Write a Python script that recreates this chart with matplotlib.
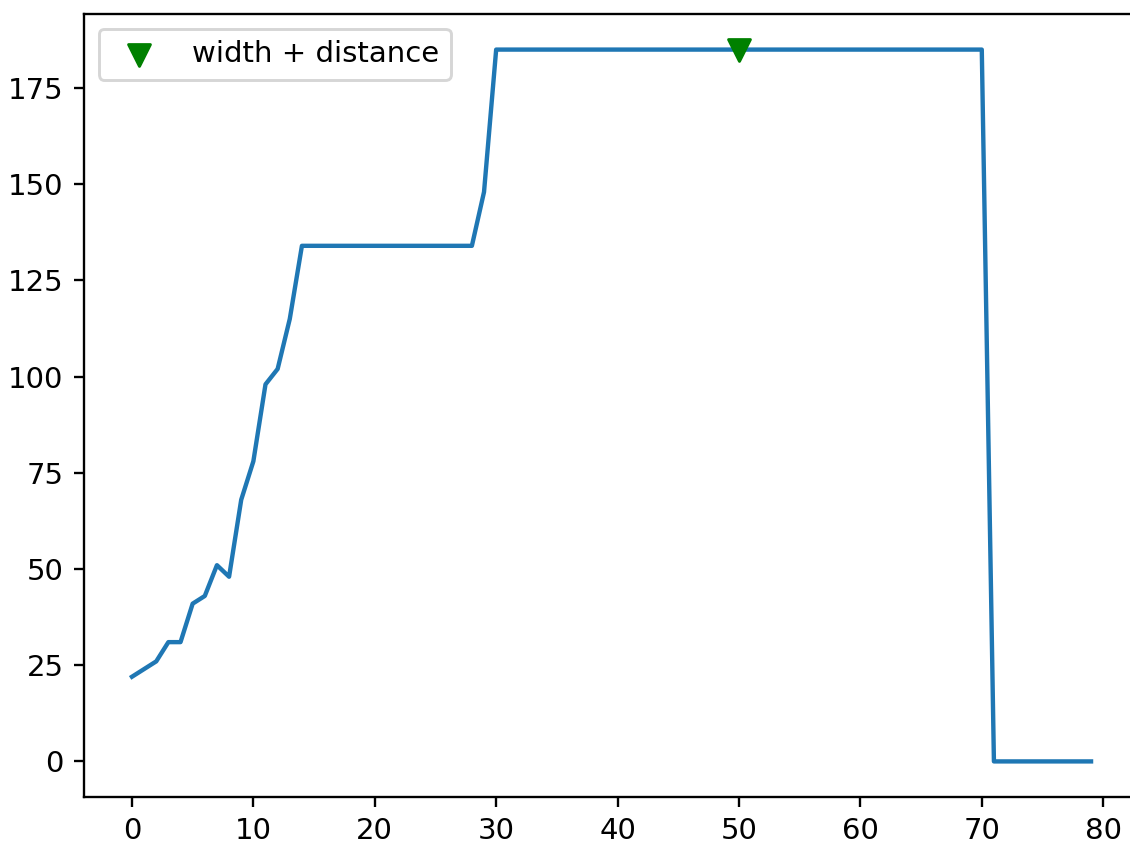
import matplotlib
matplotlib.use("Agg")
import matplotlib.pyplot as plt

# values
steps = list(range(80))
rise = [22, 24, 26, 31, 31, 41, 43, 51, 48, 68, 78, 98, 102, 115, 134]
plateau_1 = [134] * 14
step_up = [148]
plateau_2 = [185] * 41
tail = [0] * 9
values = rise + plateau_1 + step_up + plateau_2 + tail

marker_x = [50]
marker_y = [185]
marker_label = "width + distance"

fig = plt.figure(figsize=(1130 / 210, 843 / 210), dpi=210)
ax = fig.add_axes([84 / 1130, 46 / 843, 1055 / 1130, 783 / 843])

ax.plot(steps, values)
ax.scatter(marker_x, marker_y, marker="v", color="green", s=56, label=marker_label, zorder=3)

ax.legend(loc="upper left")

fig.savefig("out.png", dpi=210)
